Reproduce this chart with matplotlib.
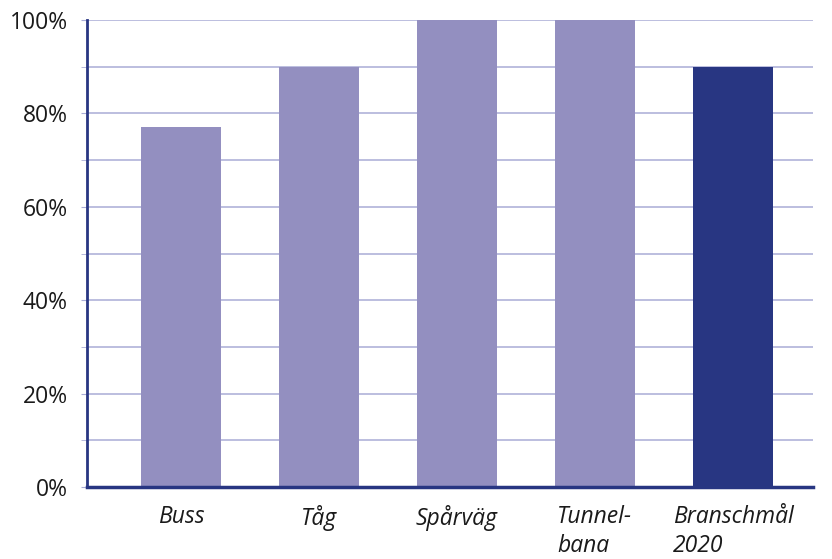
import matplotlib
matplotlib.use("Agg")
import matplotlib.pyplot as plt
from matplotlib.ticker import MultipleLocator, FuncFormatter

categories = ["Buss", "Tåg", "Spårväg", "Tunnel-\nbana", "Branschmål\n2020"]
values = [77, 90, 100, 100, 90]
colors = ["#938fc0", "#938fc0", "#938fc0", "#938fc0", "#283682"]

plt.rcParams['font.family'] = ['Open Sans', 'DejaVu Sans']

fig = plt.figure(figsize=(8.32, 5.59), dpi=100)
ax = fig.add_axes([87/832, 1 - 487/559, (813-87)/832, (487-20)/559])

x = range(len(categories))
ax.bar(x, values, width=0.58, color=colors, zorder=3)

ax.set_ylim(0, 100)
ax.set_xlim(-0.68, 4.58)
ax.yaxis.set_major_locator(MultipleLocator(20))
ax.yaxis.set_minor_locator(MultipleLocator(10))
ax.yaxis.set_major_formatter(FuncFormatter(lambda v, p: f"{int(v)}%"))
ax.grid(axis='y', which='both', color="#a9acd6", linewidth=1.1, zorder=0)
ax.tick_params(axis='y', which='both', length=4, color="#a9acd6", labelsize=16.5, pad=10, labelcolor="#1a1a1a")

ax.set_xticks(list(x))
ax.set_xticklabels(categories, fontsize=16.5, style='italic', multialignment='left',
                   color="#1a1a1a", linespacing=1.25)
ax.tick_params(axis='x', length=0, pad=13)

for s in ['top', 'right']:
    ax.spines[s].set_visible(False)
ax.spines['left'].set_color("#283682")
ax.spines['left'].set_linewidth(2)
ax.spines['bottom'].set_color("#283682")
ax.spines['bottom'].set_linewidth(2.5)
ax.spines['bottom'].set_zorder(4)

fig.savefig("out.png", dpi=100, facecolor="white")
